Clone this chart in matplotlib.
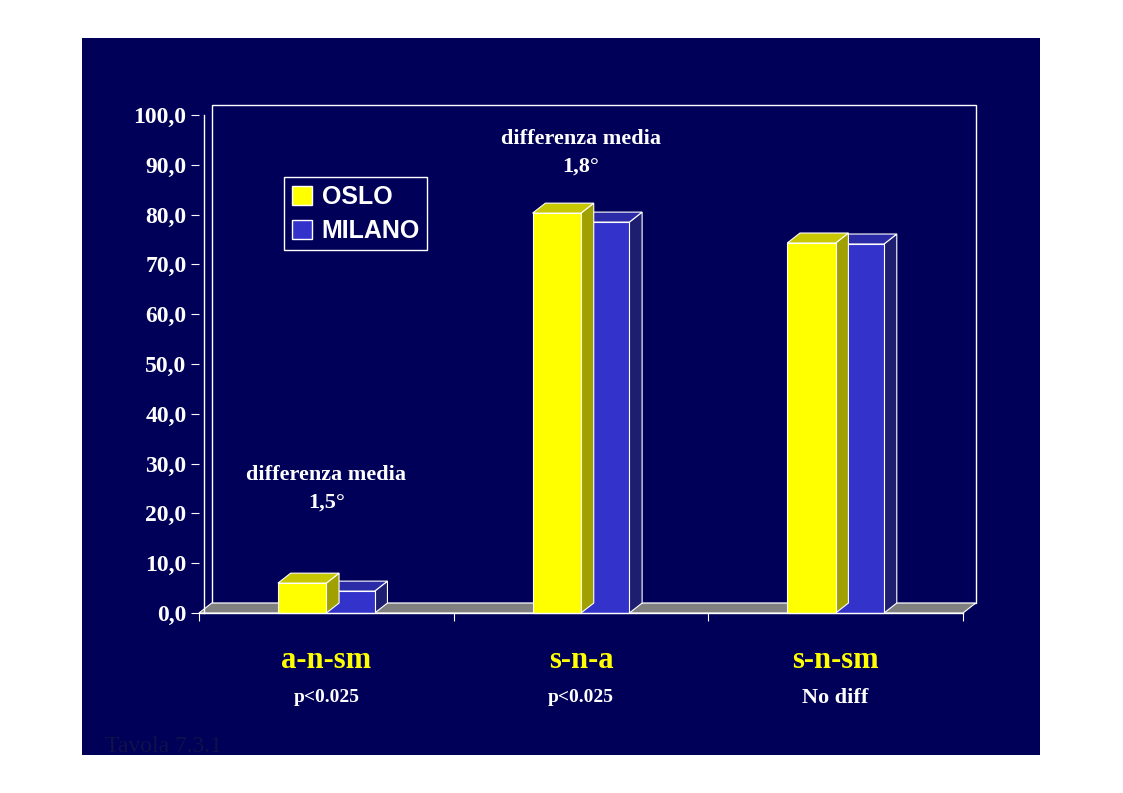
import matplotlib
matplotlib.use("Agg")
import matplotlib.pyplot as plt
from matplotlib.patches import Rectangle, Polygon

categories = ["a-n-sm", "s-n-a", "s-n-sm"]
pvalues = ["p<0.025", "p<0.025", "No diff"]
oslo = [6.0, 80.3, 74.3]
milano = [4.4, 78.5, 74.1]
yticks = [0, 10, 20, 30, 40, 50, 60, 70, 80, 90, 100]

NAVY = "#000059"
YEL = "#ffff00"
BLUE = "#3333cc"
serif = "Liberation Serif"

fig = plt.figure(figsize=(11.23, 7.93), dpi=100)
fig.patch.set_facecolor("white")
fig.add_artist(Rectangle((82/1123, 1-755/793), (1040-82)/1123, (755-38)/793,
                         transform=fig.transFigure, facecolor=NAVY, edgecolor="none",
                         zorder=-10))

ax = fig.add_axes([199/1123, 1-613/793, (963-199)/1123, (613-115)/793])
ax.set_zorder(1)
ax.set_xlim(0, 3)
ax.set_ylim(0, 100)
ax.patch.set_alpha(0)
for s in ax.spines.values():
    s.set_visible(False)

dx, dy = 0.05, 2.0
# back wall and floor
ax.add_patch(Rectangle((dx, dy), 3, 100, fill=False, edgecolor="white", lw=1, clip_on=False))
ax.add_patch(Polygon([(0, 0), (3, 0), (3 + dx, dy), (dx, dy)], closed=True,
                     facecolor="#808080", edgecolor="white", lw=0.8, clip_on=False))
ax.plot([dx * 0.4, dx * 0.4], [0, 100], color="white", lw=1, clip_on=False)
ax.plot([0, 3], [0, 0], color="white", lw=1, clip_on=False)

w = 0.19

def bar3d(x0, h, face, top, side):
    ax.add_patch(Polygon([(x0 + w, 0), (x0 + w + dx, dy), (x0 + w + dx, h + dy), (x0 + w, h)],
                         facecolor=side, edgecolor="white", lw=0.8, clip_on=False))
    ax.add_patch(Polygon([(x0, h), (x0 + dx, h + dy), (x0 + w + dx, h + dy), (x0 + w, h)],
                         facecolor=top, edgecolor="white", lw=0.8, clip_on=False))
    ax.add_patch(Rectangle((x0, 0), w, h, facecolor=face, edgecolor="white", lw=0.8, clip_on=False))

for i in range(3):
    c = i + 0.5
    bar3d(c, milano[i], BLUE, "#2b2ba8", "#1e1e70")
    bar3d(c - w, oslo[i], YEL, "#c8c800", "#a0a000")
    ax.text(c, -9.5, categories[i], color=YEL, fontsize=22, fontweight="bold",
            family=serif, ha="center", va="center")
    ax.text(c, -17, pvalues[i], color="white", fontsize=14 if i < 2 else 16,
            fontweight="bold", family=serif, ha="center", va="center")

ax.set_yticks(yticks)
ax.set_yticklabels([f"{v:.1f}".replace(".", ",") for v in yticks],
                   color="white", fontsize=17, fontweight="bold", family=serif)
ax.set_xticks([0, 1, 2, 3])
ax.set_xticklabels([])
ax.tick_params(axis="y", colors="white", length=6, direction="out", pad=3)
ax.tick_params(axis="x", colors="white", length=6, direction="out")

ax.text(0.5, 25, "differenza media\n1,5°", color="white", fontsize=16, fontweight="bold",
        family=serif, ha="center", va="center", linespacing=1.5)
ax.text(1.5, 92.5, "differenza media\n1,8°", color="white", fontsize=16, fontweight="bold",
        family=serif, ha="center", va="center", linespacing=1.5)

leg = ax.legend(handles=[Rectangle((0, 0), 1, 1, facecolor=YEL, edgecolor="white"),
                         Rectangle((0, 0), 1, 1, facecolor=BLUE, edgecolor="white")],
                labels=["OSLO", "MILANO"], loc="upper left", bbox_to_anchor=(0.095, 0.9),
                prop={"family": "Liberation Sans", "weight": "bold", "size": 18},
                facecolor=NAVY, edgecolor="white", framealpha=1, fancybox=False,
                handlelength=0.8, handleheight=0.8, handletextpad=0.4, borderpad=0.3,
                labelspacing=0.4)
for t in leg.get_texts():
    t.set_color("white")

fig.text(105/1123, 1-746/793, "Tavola 7.3.1", color="#10104a", fontsize=17, family=serif,
         ha="left", va="center", zorder=5)
fig.savefig("out.png", dpi=100)
